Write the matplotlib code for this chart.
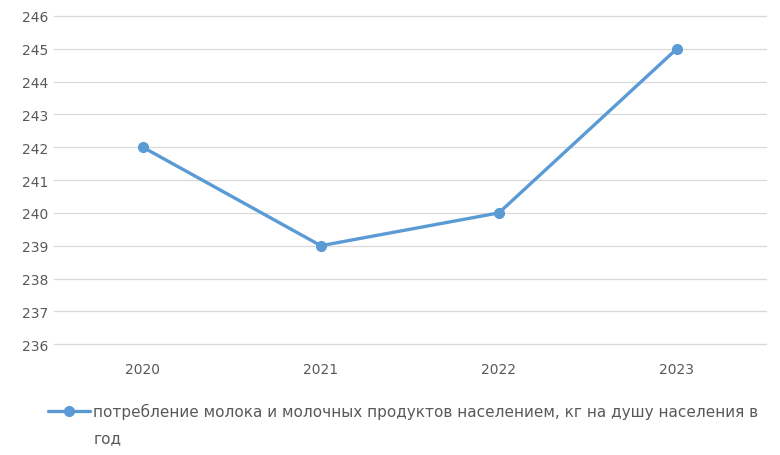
import matplotlib
matplotlib.use("Agg")
import matplotlib.pyplot as plt

years = ["2020", "2021", "2022", "2023"]
consumption = [242, 239, 240, 245]
label_lines = ["потребление молока и молочных продуктов населением, кг на душу населения в",
               "год"]

plt.rcParams["font.family"] = ["DejaVu Sans"]
blue = "#5B9BD5"
text_col = "#595959"

fig = plt.figure(figsize=(7.8, 4.56), dpi=100)
ax = fig.add_axes([0.069, 0.243, 0.913, 0.72])

x = range(len(years))
ax.plot(x, consumption, color=blue, lw=2.4, marker="o", ms=7, label=label_lines[0],
        solid_capstyle="round")

ax.set_xlim(-0.5, len(years) - 0.5)
ax.set_ylim(236, 246)
ax.set_yticks(range(236, 247))
ax.set_xticks(list(x))
ax.set_xticklabels(years)
ax.grid(axis="y", color="#d9d9d9", lw=0.9)
for gl in ax.get_ygridlines():
    gl.set_clip_on(False)
ax.set_axisbelow(True)
for s in ax.spines.values():
    s.set_visible(False)
ax.tick_params(length=0, labelsize=10, labelcolor=text_col)
ax.tick_params(axis="x", pad=13)
ax.tick_params(axis="y", pad=4)

leg = fig.legend(loc="upper left", bbox_to_anchor=(0.054, 0.127), frameon=False,
                 fontsize=11, labelcolor=text_col, handlelength=2.75, handletextpad=0.2,
                 borderaxespad=0)

# second line of the legend label, wrapped like in Excel
fig.canvas.draw()
bb = leg.get_texts()[0].get_window_extent()
W, H = fig.canvas.get_width_height()
fig.text(bb.x0 / W, (bb.y0 - 26) / H, label_lines[1], fontsize=11, color=text_col,
         ha="left", va="bottom")

fig.savefig("out.png", dpi=100)
